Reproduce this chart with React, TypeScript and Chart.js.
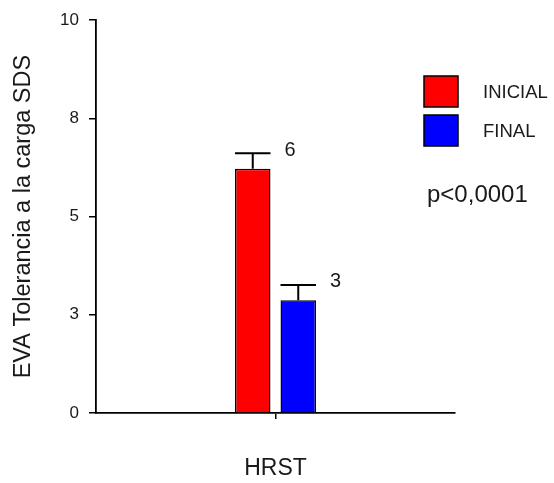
import React, { useEffect, useRef } from "react";
import { Chart, registerables } from "chart.js";

Chart.register(...registerables);

const categories = ["HRST"];
const seriesNames = ["INICIAL", "FINAL"];
const seriesColors = ["#FF0000", "#0000FF"];
const meanValues = [6.22, 2.87];
const errorValues = [0.39, 0.39];
const valueLabels = ["6", "3"];
const yTickLabels = ["0", "3", "5", "8", "10"];
const yTitle = "EVA Tolerancia a la carga SDS";
const pValueText = "p<0,0001";

const FONT = "Arial, 'Liberation Sans', Helvetica, sans-serif";
const TEXT = "#1a1a1a";

const errorBarPlugin = {
  id: "errorBars",
  afterDatasetsDraw(chart: any) {
    const ctx = chart.ctx;
    const yScale = chart.scales.y;
    ctx.save();
    chart.data.datasets.forEach((ds: any, di: number) => {
      const meta = chart.getDatasetMeta(di);
      meta.data.forEach((bar: any, i: number) => {
        const v = ds.data[i];
        const e = errorValues[di];
        const x = bar.x;
        const half = bar.width / 2;
        const yTop = yScale.getPixelForValue(v);
        const yErr = yScale.getPixelForValue(v + e);
        ctx.strokeStyle = "#000";
        ctx.lineWidth = 2;
        ctx.beginPath();
        ctx.moveTo(x, yTop);
        ctx.lineTo(x, yErr);
        ctx.moveTo(x - half, yErr);
        ctx.lineTo(x + half, yErr);
        ctx.stroke();
        ctx.fillStyle = TEXT;
        ctx.font = `20px ${FONT}`;
        ctx.textAlign = "left";
        ctx.textBaseline = "middle";
        ctx.fillText(valueLabels[di], x + half + 14, yErr - 3);
      });
    });
    ctx.restore();
  },
};

const legendPlugin = {
  id: "customLegend",
  afterDraw(chart: any) {
    const ctx = chart.ctx;
    ctx.save();
    const boxX = 424;
    const boxW = 34;
    const boxH = 31;
    const rows = [76, 115];
    seriesNames.forEach((name, i) => {
      const y = rows[i];
      ctx.fillStyle = seriesColors[i];
      ctx.fillRect(boxX, y, boxW, boxH);
      ctx.strokeStyle = "#000";
      ctx.lineWidth = 1.5;
      ctx.strokeRect(boxX, y, boxW, boxH);
      ctx.fillStyle = TEXT;
      ctx.font = `18.5px ${FONT}`;
      ctx.textAlign = "left";
      ctx.textBaseline = "middle";
      ctx.fillText(name, 483, y + boxH / 2 + 1);
    });
    ctx.font = `24px ${FONT}`;
    ctx.fillStyle = TEXT;
    ctx.textAlign = "left";
    ctx.textBaseline = "middle";
    ctx.fillText(pValueText, 427, 195);
    ctx.restore();
  },
};

export default function App() {
  const canvasRef = useRef<HTMLCanvasElement | null>(null);

  useEffect(() => {
    document.body.style.margin = "0";
    const canvas = canvasRef.current;
    if (!canvas) return;
    const chart = new Chart(canvas, {
      type: "bar",
      data: {
        labels: categories,
        datasets: seriesNames.map((name, i) => ({
          label: name,
          data: [meanValues[i]],
          backgroundColor: seriesColors[i],
          borderColor: "#000",
          borderWidth: 1.5,
          categoryPercentage: 0.2535,
          barPercentage: 0.78,
        })),
      },
      options: {
        animation: false,
        responsive: false,
        maintainAspectRatio: false,
        layout: { padding: { top: 16, right: 99, left: 9, bottom: 0 } },
        plugins: {
          legend: { display: false },
          tooltip: { enabled: false },
        },
        scales: {
          x: {
            offset: true,
            grid: {
              display: true,
              offset: false,
              drawOnChartArea: false,
              drawTicks: true,
              tickLength: 6,
              color: "#000",
              lineWidth: 1.5,
            },
            border: { display: true, color: "#000", width: 1.8 },
            ticks: {
              color: TEXT,
              font: { size: 23, family: FONT },
              padding: 36,
            },
            afterFit(scale: any) {
              scale.height = 70;
            },
          },
          y: {
            min: 0,
            max: 10,
            grid: {
              display: true,
              drawOnChartArea: false,
              drawTicks: true,
              tickLength: 7,
              color: "#000",
              lineWidth: 1.5,
            },
            border: { display: true, color: "#000", width: 1.8 },
            ticks: {
              stepSize: 2.5,
              color: TEXT,
              font: { size: 17, family: FONT },
              padding: 10,
              callback: (_v: any, i: number) => yTickLabels[i],
            },
            title: {
              display: true,
              text: yTitle,
              color: TEXT,
              font: { size: 23.5, family: FONT },
              padding: { top: 0, bottom: 6 },
            },
            afterFit(scale: any) {
              scale.width = 87;
            },
          },
        },
      },
      plugins: [errorBarPlugin, legendPlugin],
    });
    return () => chart.destroy();
  }, []);

  return (
    <div style={{ width: 554, height: 483 }}>
      <canvas ref={canvasRef} width={554} height={483} style={{ display: "block" }} />
    </div>
  );
}
